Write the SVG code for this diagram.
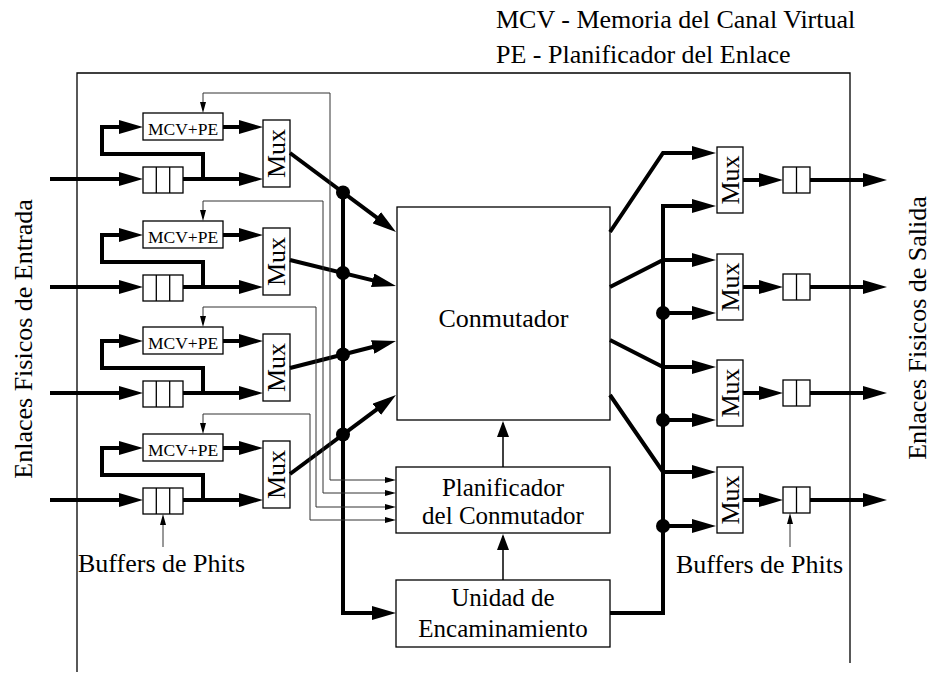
<svg xmlns="http://www.w3.org/2000/svg" width="931" height="673" viewBox="0 0 931 673">
<style>
.box{fill:#fff;stroke:#000;stroke-width:1.3}
.div{stroke:#000;stroke-width:1.3}
.thick{fill:none;stroke:#000;stroke-width:4;stroke-linejoin:miter}
.thin{fill:none;stroke:#333;stroke-width:1}
.med{fill:none;stroke:#000;stroke-width:1.5}
.frame{fill:none;stroke:#000;stroke-width:1.3}
.t{font-family:"Liberation Serif","Times New Roman",serif;font-size:26px;fill:#000}
.s{font-size:17.5px}
.p{font-size:25px}
.m{text-anchor:middle}
.dot{fill:#000}
</style>
<defs>
<marker id="ah" markerUnits="userSpaceOnUse" markerWidth="24" markerHeight="14" viewBox="0 0 24 14" refX="16" refY="7" orient="auto"><path d="M0,0 L24,7 L0,14 z" fill="#000"/></marker>
<marker id="am" markerUnits="userSpaceOnUse" markerWidth="16" markerHeight="12" viewBox="0 0 16 12" refX="14" refY="6" orient="auto"><path d="M0,0 L16,6 L0,12 z" fill="#000"/></marker>
<marker id="at" markerUnits="userSpaceOnUse" markerWidth="11" markerHeight="6" viewBox="0 0 11 6" refX="8" refY="3" orient="auto-start-reverse"><path d="M0,0 L11,3 L0,6 z" fill="#000"/></marker>
</defs>
<rect width="931" height="673" fill="#fff"/>
<g id="legend" class="t">
<text x="496" y="28">MCV - Memoria del Canal Virtual</text>
<text x="496" y="63">PE - Planificador del Enlace</text>
</g>
<path id="frame" class="frame" d="M77,672 V73 H850 V663"/>
<g id="label-in"><text class="t m" transform="translate(32,339) rotate(-90)">Enlaces Fisicos de Entrada</text></g>
<g id="label-out"><text class="t m" transform="translate(926,328) rotate(-90)">Enlaces Fisicos de Salida</text></g>

<g id="in-row1">
<rect class="box" x="143" y="167" width="40" height="26"/><path class="div" d="M156.3,167V193M169.7,167V193"/>
<rect class="box" x="143" y="113" width="80" height="27"/><text class="t s m" x="183" y="135">MCV+PE</text>
<rect class="box" x="263" y="120" width="27" height="67"/><text class="t m" transform="translate(285,153.5) rotate(-90)">Mux</text>
</g>
<g id="in-row2">
<rect class="box" x="143" y="275" width="40" height="26"/><path class="div" d="M156.3,275V301M169.7,275V301"/>
<rect class="box" x="143" y="221" width="80" height="27"/><text class="t s m" x="183" y="243">MCV+PE</text>
<rect class="box" x="263" y="228" width="27" height="67"/><text class="t m" transform="translate(285,261.5) rotate(-90)">Mux</text>
</g>
<g id="in-row3">
<rect class="box" x="143" y="381" width="40" height="26"/><path class="div" d="M156.3,381V407M169.7,381V407"/>
<rect class="box" x="143" y="327" width="80" height="27"/><text class="t s m" x="183" y="349">MCV+PE</text>
<rect class="box" x="263" y="334" width="27" height="67"/><text class="t m" transform="translate(285,367.5) rotate(-90)">Mux</text>
</g>
<g id="in-row4">
<rect class="box" x="143" y="488" width="40" height="26"/><path class="div" d="M156.3,488V514M169.7,488V514"/>
<rect class="box" x="143" y="434" width="80" height="27"/><text class="t s m" x="183" y="456">MCV+PE</text>
<rect class="box" x="263" y="441" width="27" height="67"/><text class="t m" transform="translate(285,474.5) rotate(-90)">Mux</text>
</g>

<g id="conmutador"><rect class="box" x="397" y="207" width="213" height="213"/><text class="t m" x="503.5" y="327">Conmutador</text></g>
<g id="planificador"><rect class="box" x="396" y="467" width="214" height="66"/><text class="t p m" x="503" y="496">Planificador</text><text class="t p m" x="503" y="524">del Conmutador</text></g>
<g id="unidad"><rect class="box" x="396" y="580" width="214" height="67"/><text class="t p m" x="503" y="606">Unidad de</text><text class="t p m" x="503" y="637">Encaminamiento</text></g>

<g id="out-row1"><rect class="box" x="717" y="147" width="26" height="66"/><text class="t m" transform="translate(738.5,180) rotate(-90)">Mux</text><rect class="box" x="783" y="167" width="27" height="26"/><path class="div" d="M796.5,167V193"/></g>
<g id="out-row2"><rect class="box" x="717" y="254" width="26" height="66"/><text class="t m" transform="translate(738.5,287) rotate(-90)">Mux</text><rect class="box" x="783" y="274" width="27" height="26"/><path class="div" d="M796.5,274V300"/></g>
<g id="out-row3"><rect class="box" x="717" y="360" width="26" height="66"/><text class="t m" transform="translate(738.5,393) rotate(-90)">Mux</text><rect class="box" x="783" y="380" width="27" height="26"/><path class="div" d="M796.5,380V406"/></g>
<g id="out-row4"><rect class="box" x="717" y="467" width="26" height="66"/><text class="t m" transform="translate(738.5,500) rotate(-90)">Mux</text><rect class="box" x="783" y="487" width="27" height="26"/><path class="div" d="M796.5,487V513"/></g>

<g id="buffers-label-in"><text class="t" x="78" y="572">Buffers de Phits</text></g>
<g id="buffers-label-out"><text class="t" x="676" y="573">Buffers de Phits</text></g>

<g id="connectors">
<g class="thick" marker-end="url(#ah)">
<path d="M50,179H135"/><path d="M183,179H255"/><path d="M203,179V154H102V127H135"/><path d="M223,127H255"/>
<path d="M50,287H135"/><path d="M183,287H255"/><path d="M203,287V262H102V235H135"/><path d="M223,235H255"/>
<path d="M50,393H135"/><path d="M183,393H255"/><path d="M203,393V368H102V341H135"/><path d="M223,341H255"/>
<path d="M50,500H135"/><path d="M183,500H255"/><path d="M203,500V475H102V448H135"/><path d="M223,448H255"/>
<path d="M290,153L389.6,227.2"/><path d="M290,260L388.2,284.1"/><path d="M290,368L388.2,343"/><path d="M290,474L389.6,399.8"/>
<path d="M343,192.5V613H388"/>
<path d="M610,232L663,153H708"/><path d="M610,287L663,260H708"/><path d="M610,340L663,367H708"/><path d="M610,395L663,472H708"/>
<path d="M610,613H663V206H708"/><path d="M663,313H708"/><path d="M663,420H708"/><path d="M663,526H708"/>
<path d="M743,180H775"/><path d="M743,287H775"/><path d="M743,393H775"/><path d="M743,500H775"/>
<path d="M810,180H879"/><path d="M810,287H879"/><path d="M810,393H879"/><path d="M810,500H879"/>
</g>
<g class="thin" marker-start="url(#at)" marker-end="url(#at)">
<path d="M203,110V93H330V480H393"/>
<path d="M203,218V201H323V493H393"/>
<path d="M203,324V307H316V507H393"/>
<path d="M203,431V414H310V520H393"/>
</g>
<g class="thin" marker-end="url(#at)">
<path d="M163,547V517"/><path d="M790,547V516"/>
</g>
<g class="med" marker-end="url(#am)">
<path d="M503,467V423"/><path d="M503,580V536"/>
</g>
<g class="dot">
<circle cx="343" cy="192.5" r="7"/><circle cx="343" cy="273" r="7"/><circle cx="343" cy="354.5" r="7"/><circle cx="343" cy="434.5" r="7"/>
<circle cx="663" cy="313" r="7"/><circle cx="663" cy="420" r="7"/><circle cx="663" cy="526" r="7"/>
</g>
</g>
</svg>
